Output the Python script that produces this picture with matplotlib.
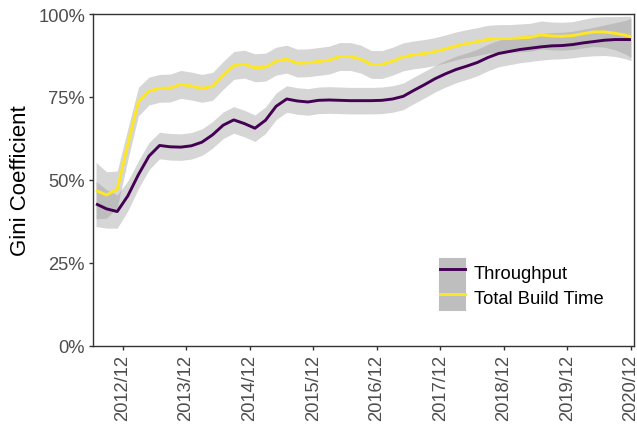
import matplotlib
matplotlib.use("Agg")
import matplotlib.pyplot as plt
from matplotlib.lines import Line2D
from matplotlib.patches import Patch
import numpy as np

plt.rcParams["font.family"] = ["Liberation Sans", "DejaVu Sans"]

# Months since 2012-07 (every two months, last point 2020-12)
months = list(range(0, 101, 2)) + [101]

throughput = [
    0.428, 0.413, 0.405, 0.452, 0.516, 0.572, 0.604, 0.600, 0.599, 0.603,
    0.614, 0.636, 0.665, 0.681, 0.670, 0.656, 0.680, 0.722, 0.744, 0.738,
    0.735, 0.740, 0.741, 0.740, 0.739, 0.739, 0.739, 0.740, 0.744, 0.752,
    0.770, 0.787, 0.805, 0.820, 0.833, 0.843, 0.854, 0.869, 0.881, 0.887,
    0.893, 0.897, 0.901, 0.904, 0.905, 0.908, 0.913, 0.917, 0.921, 0.923,
    0.923, 0.923,
]
throughput_se = [
    0.068, 0.058, 0.050, 0.045, 0.042, 0.041, 0.040, 0.040, 0.040, 0.040,
    0.040, 0.040, 0.040, 0.040, 0.040, 0.040, 0.040, 0.040, 0.040, 0.040,
    0.040, 0.040, 0.040, 0.040, 0.040, 0.040, 0.040, 0.040, 0.040, 0.040,
    0.040, 0.040, 0.040, 0.040, 0.040, 0.040, 0.040, 0.040, 0.040, 0.040,
    0.040, 0.040, 0.040, 0.040, 0.040, 0.040, 0.041, 0.043, 0.046, 0.051,
    0.058, 0.064,
]

build_time = [
    0.468, 0.455, 0.472, 0.607, 0.736, 0.768, 0.776, 0.777, 0.788, 0.783,
    0.776, 0.782, 0.815, 0.845, 0.849, 0.838, 0.840, 0.858, 0.864, 0.852,
    0.853, 0.857, 0.861, 0.872, 0.872, 0.864, 0.848, 0.848, 0.858, 0.871,
    0.877, 0.881, 0.887, 0.895, 0.904, 0.911, 0.917, 0.924, 0.926, 0.926,
    0.928, 0.930, 0.937, 0.934, 0.933, 0.935, 0.941, 0.946, 0.946, 0.942,
    0.936, 0.931,
]
build_time_se = [
    0.085, 0.070, 0.055, 0.047, 0.043, 0.042, 0.042, 0.042, 0.042, 0.042,
    0.042, 0.042, 0.042, 0.042, 0.042, 0.042, 0.042, 0.042, 0.042, 0.042,
    0.042, 0.042, 0.042, 0.042, 0.042, 0.042, 0.042, 0.042, 0.042, 0.042,
    0.042, 0.042, 0.042, 0.042, 0.042, 0.042, 0.042, 0.042, 0.042, 0.042,
    0.042, 0.042, 0.042, 0.042, 0.042, 0.042, 0.043, 0.044, 0.046, 0.050,
    0.057, 0.062,
]

tick_months = [5, 17, 29, 41, 53, 65, 77, 89, 101]
tick_labels = ["2012/12", "2013/12", "2014/12", "2015/12", "2016/12",
               "2017/12", "2018/12", "2019/12", "2020/12"]
y_ticks = [0, 0.25, 0.5, 0.75, 1.0]
y_labels = ["0%", "25%", "50%", "75%", "100%"]

series = [
    ("Throughput", throughput, throughput_se, "#440154"),
    ("Total Build Time", build_time, build_time_se, "#FDE725"),
]

fig = plt.figure(figsize=(6.37, 4.27), dpi=100)
ax = fig.add_axes([93 / 637, 80 / 427, 541 / 637, 332 / 427])

x = np.array(months, dtype=float)
for name, vals, se, col in series:
    v = np.array(vals)
    s = np.array(se)
    ax.fill_between(x, v - s, v + s, color="#999999", alpha=0.4, lw=0)
    ax.plot(x, v, color=col, lw=2.1, solid_capstyle="butt")

ax.set_xlim(-0.57, 101.57)
ax.set_ylim(0, 1)
ax.set_xticks(tick_months)
ax.set_xticklabels(tick_labels, rotation=90)
ax.set_yticks(y_ticks)
ax.set_yticklabels(y_labels)

for sp in ax.spines.values():
    sp.set_color("#333333")
    sp.set_linewidth(1.0)
ax.tick_params(axis="both", colors="#333333", length=3.2, width=1.0,
               labelsize=13.2, labelcolor="#4d4d4d", pad=2.5)

ax.set_ylabel("Gini Coefficient", fontsize=16, color="black", labelpad=5)

handles = [
    (Patch(facecolor="#bebebe", edgecolor="#bebebe", lw=1.5),
     Line2D([], [], color=col, lw=2.1))
    for _, _, _, col in series
]
ax.legend(handles, [s[0] for s in series], loc="lower left",
          bbox_to_anchor=(0.641, 0.108), frameon=False, fontsize=13.2,
          handlelength=1.4, handleheight=1.75, labelspacing=0.0,
          handletextpad=0.45, borderpad=0, borderaxespad=0)

fig.savefig("out.png", dpi=100)
